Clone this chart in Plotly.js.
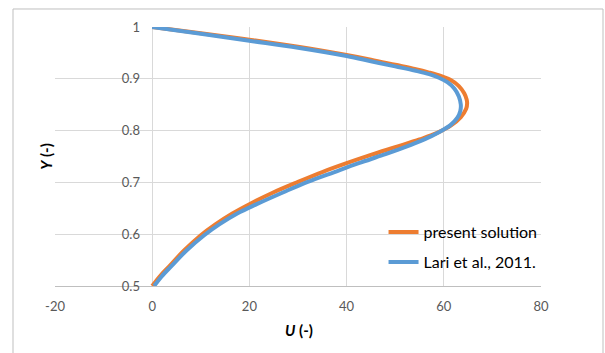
<!DOCTYPE html>
<html>
<head>
<meta charset="utf-8">
<script src="https://cdn.plot.ly/plotly-3.0.1.min.js"></script>
<style>html,body{margin:0;padding:0;background:#fff;}#chart{width:605px;height:353px;}</style>
</head>
<body>
<div id="chart"></div>
<script>
// present solution (orange): U values and matching Y values along the profile
const presentU = [0, 1.5, 3.5, 6.5, 10.0, 13.0, 16.5, 20.0, 25.0, 30.0, 35.0, 40.0, 45.0, 50.0, 55.0, 58.5, 61.5, 63.5, 64.6, 64.8, 64.7, 64.2, 63.1, 61.5, 59.5, 57.0, 54.0, 50.0, 45.0, 40.0, 30.0, 20.0, 10.0, 0];
const presentY = [0.5, 0.518, 0.538, 0.568, 0.598, 0.619, 0.64, 0.658, 0.681, 0.701, 0.72, 0.737, 0.753, 0.768, 0.783, 0.795, 0.81, 0.826, 0.842, 0.853, 0.86, 0.872, 0.886, 0.897, 0.905, 0.912, 0.919, 0.927, 0.937, 0.946, 0.962, 0.9755, 0.988, 1.0];
// Lari et al., 2011 (blue)
const lariU = [0.4, 1.9, 3.9, 7.0, 10.7, 13.8, 17.5, 21.5, 27.0, 32.0, 37.5, 42.5, 47.5, 52.0, 56.0, 59.0, 61.3, 62.8, 63.4, 63.5, 63.1, 62.2, 60.8, 59.0, 57.0, 54.0, 50.0, 45.0, 40.0, 30.0, 20.0, 10.0, 0];
const lariY = [0.5, 0.518, 0.538, 0.568, 0.598, 0.619, 0.64, 0.658, 0.681, 0.701, 0.72, 0.737, 0.753, 0.768, 0.783, 0.797, 0.81, 0.825, 0.838, 0.85, 0.866, 0.881, 0.893, 0.902, 0.909, 0.916, 0.924, 0.934, 0.944, 0.96, 0.9735, 0.987, 1.0];

const seriesNames = ["present solution", "Lari et al., 2011."];
const xTicks = [-20, 0, 20, 40, 60, 80];
const yTicks = [0.5, 0.6, 0.7, 0.8, 0.9, 1];

const FONT = "Lato, 'Open Sans', sans-serif";

const traces = [
  {x: presentU, y: presentY, name: seriesNames[0], mode: 'lines', legend: 'legend',
   line: {color: '#ED7D31', width: 4, shape: 'spline', smoothing: 1}},
  {x: lariU, y: lariY, name: seriesNames[1], mode: 'lines', legend: 'legend2',
   line: {color: '#5B9BD5', width: 4, shape: 'spline', smoothing: 1}}
];

const legendBase = {xanchor: 'left', yanchor: 'middle', bgcolor: 'rgba(0,0,0,0)',
  font: {family: FONT, size: 16, color: '#000'}, itemwidth: 30, borderwidth: 0};

const layout = {
  width: 605, height: 353,
  margin: {l: 55, r: 64, t: 27, b: 67},
  paper_bgcolor: '#fff', plot_bgcolor: '#fff',
  font: {family: FONT, size: 13, color: '#595959'},
  showlegend: true,
  legend: Object.assign({}, legendBase, {x: 0.676, y: 0.2085}),
  legend2: Object.assign({}, legendBase, {x: 0.676, y: 0.0927}),
  xaxis: {range: [-20, 80], tickvals: xTicks, ticktext: xTicks.map(String),
          showgrid: true, gridcolor: '#D9D9D9', gridwidth: 1,
          zeroline: false, showline: true, linecolor: '#BFBFBF', linewidth: 1,
          ticks: '', ticklabelstandoff: 8, fixedrange: true,
          tickfont: {family: FONT, size: 13, color: '#595959'}},
  yaxis: {range: [0.5, 1], tickvals: yTicks, ticktext: yTicks.map(String),
          anchor: 'free', position: 0.2016,
          showgrid: true, gridcolor: '#D9D9D9', gridwidth: 1,
          zeroline: false, showline: false, ticks: '', ticklabelstandoff: 13,
          tickfont: {family: FONT, size: 13, color: '#595959'}},
  annotations: [
    {text: '<b><i>U</i> (-)</b>', xref: 'paper', yref: 'paper', x: 0.502, y: -0.17,
     xanchor: 'center', yanchor: 'middle', showarrow: false,
     font: {family: FONT, size: 15, color: '#000'}},
    {text: '<b><i>Y</i> (-)</b>', xref: 'paper', yref: 'paper', x: -0.02, y: 0.5,
     xanchor: 'center', yanchor: 'middle', showarrow: false, textangle: -90,
     font: {family: FONT, size: 15, color: '#000'}}
  ],
  shapes: [
    {type: 'rect', xref: 'paper', yref: 'paper', x0: -0.0864, x1: 1.1276, y0: -0.3, y1: 1.0695,
     line: {color: '#BFBFBF', width: 1}, fillcolor: 'rgba(0,0,0,0)', layer: 'below'}
  ]
};

Plotly.newPlot('chart', traces, layout, {staticPlot: true, displayModeBar: false});
</script>
</body>
</html>
